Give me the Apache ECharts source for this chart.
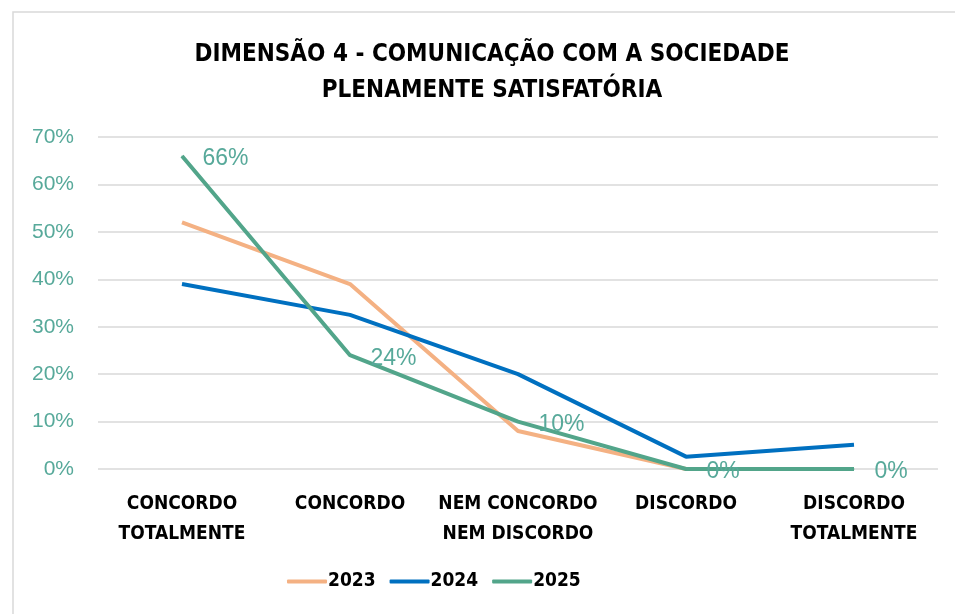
<!DOCTYPE html>
<html>
<head>
<meta charset="utf-8">
<script src="https://cdn.jsdelivr.net/npm/echarts@6/dist/echarts.min.js"></script>
<style>
  html, body { margin: 0; padding: 0; background: #fff; }
  #container { width: 955px; height: 614px; }
</style>
</head>
<body>
<div id="container"></div>
<script type="text/javascript">
var categories = ['CONCORDO\nTOTALMENTE', 'CONCORDO', 'NEM CONCORDO\nNEM DISCORDO', 'DISCORDO', 'DISCORDO\nTOTALMENTE'];
var years = ['2023', '2024', '2025'];
var values2023 = [52, 39, 8, 0, 0];
var values2024 = [39, 32.5, 20, 2.6, 5.1];
var values2025 = [66, 24, 10, 0, 0];
var colors = ['#F4B183', '#0070C0', '#52A58A'];

var condensed = '"DejaVu Sans Condensed", "DejaVu Sans", sans-serif';
var myChart = echarts.init(document.getElementById('container'));

var option = {
    animation: false,
    color: colors,
    title: {
        text: 'DIMENSÃO 4 - COMUNICAÇÃO COM A SOCIEDADE\nPLENAMENTE SATISFATÓRIA',
        left: 487,
        top: 32,
        textAlign: 'center',
        textStyle: {
            fontFamily: condensed,
            fontWeight: 'bold',
            fontSize: 24,
            lineHeight: 36,
            color: '#000'
        }
    },
    graphic: [{
        type: 'rect',
        shape: { x: 13, y: 12, width: 960, height: 640 },
        style: { fill: 'none', stroke: '#d9d9d9', lineWidth: 1.5 },
        silent: true
    }],
    legend: {
        data: years,
        bottom: 18,
        left: 282,
        itemWidth: 40,
        itemHeight: 4,
        itemGap: 14,
        icon: 'roundRect',
        textStyle: {
            fontFamily: condensed,
            fontWeight: 'bold',
            fontSize: 19,
            color: '#000',
            padding: [0, 0, 0, -4]
        }
    },
    grid: {
        left: 98,
        right: 17,
        top: 137,
        bottom: 145
    },
    xAxis: {
        type: 'category',
        data: categories,
        boundaryGap: true,
        axisLine: { show: false },
        axisTick: { show: false },
        axisLabel: {
            margin: 20,
            interval: 0,
            fontFamily: condensed,
            fontWeight: 'bold',
            fontSize: 19,
            lineHeight: 30,
            color: '#000'
        }
    },
    yAxis: {
        type: 'value',
        min: 0,
        max: 70,
        interval: 10,
        axisLine: { show: false },
        axisTick: { show: false },
        splitLine: { lineStyle: { color: '#d9d9d9', width: 1.5 } },
        axisLabel: {
            margin: 24,
            formatter: '{value}%',
            fontFamily: 'Liberation Sans, Arial, sans-serif',
            fontSize: 21,
            color: '#57A99A'
        }
    },
    series: [
        {
            name: '2023',
            type: 'line',
            data: values2023,
            symbol: 'none',
            lineStyle: { width: 4, color: colors[0] }
        },
        {
            name: '2024',
            type: 'line',
            data: values2024,
            symbol: 'none',
            lineStyle: { width: 4, color: colors[1] }
        },
        {
            name: '2025',
            type: 'line',
            data: values2025,
            symbol: 'circle',
            symbolSize: 1,
            showSymbol: true,
            itemStyle: { color: colors[2] },
            lineStyle: { width: 4, color: colors[2] },
            label: {
                show: true,
                position: 'right',
                distance: 20,
                offset: [0, 3],
                formatter: function (p) { return Math.round(p.value) + '%'; },
                fontFamily: 'Liberation Sans, Arial, sans-serif',
                fontSize: 23,
                color: '#57A99A'
            }
        }
    ]
};
myChart.setOption(option);
</script>
</body>
</html>
